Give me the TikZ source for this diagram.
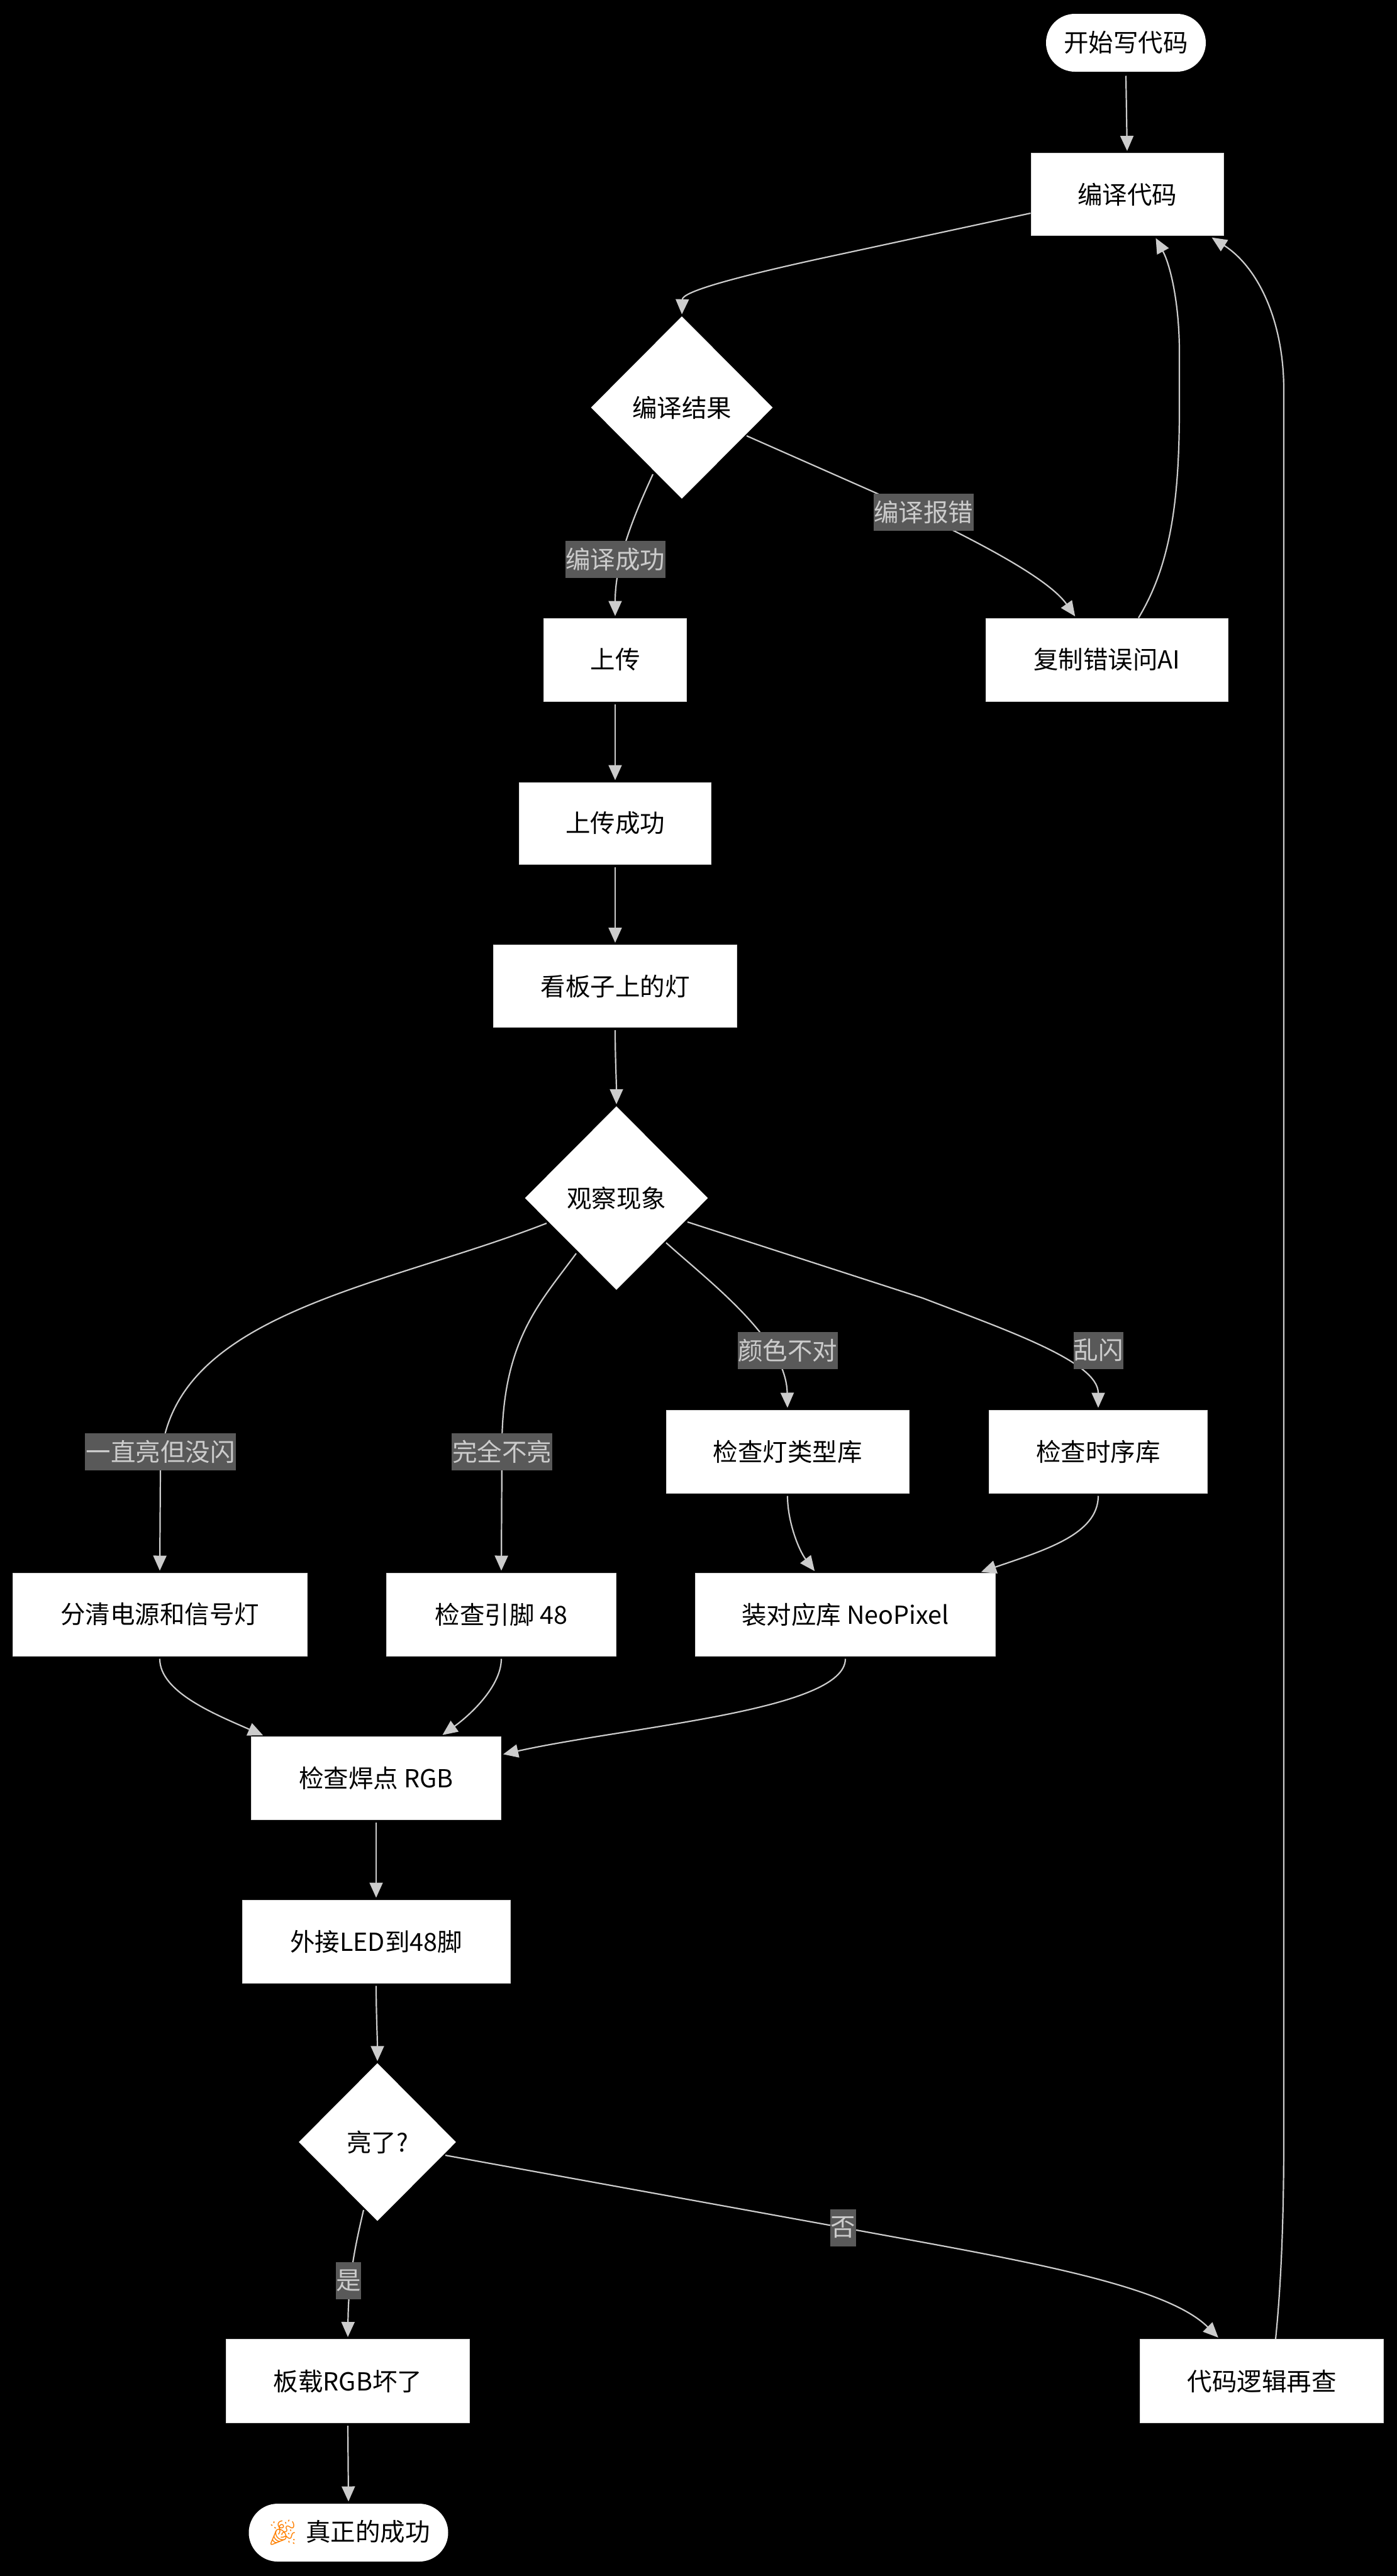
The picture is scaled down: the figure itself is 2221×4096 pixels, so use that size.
\documentclass[tikz,border=0pt]{standalone}
\usepackage{fontspec}
\setmainfont{Noto Sans CJK SC}
\newfontfamily\emojifont{Noto Emoji}
\usetikzlibrary{arrows.meta,shapes.geometric,calc}
\definecolor{edgecol}{HTML}{CCCCCC}
\definecolor{labbg}{HTML}{595959}
\tikzset{
  boxnode/.style={rectangle,fill=white,draw=white!85!black,line width=1pt,inner sep=0pt,text=black,font=\fontsize{39.5pt}{46pt}\selectfont},
  stadium/.style={boxnode,draw=none,rounded corners=46pt},
  decision/.style={diamond,fill=white,inner sep=0pt,shape aspect=1,text=black,font=\fontsize{39.5pt}{46pt}\selectfont},
  edgelabel/.style={rectangle,fill=labbg,inner sep=0pt,text=edgecol,minimum height=59pt,font=\fontsize{39.5pt}{46pt}\selectfont},
  edge/.style={draw=edgecol,line width=2.2pt,-{Triangle[length=24pt,width=21pt,fill=edgecol]},shorten >=3pt},
}
\begin{document}
\begin{tikzpicture}[x=1pt,y=-1pt]
\fill[black] (0,0) rectangle (2221,4096);
\useasboundingbox (0,0) rectangle (2221,4096);
% nodes
\node[stadium,minimum width=254pt,minimum height=92pt] (start) at (1790,68) {开始写代码};
\node[boxnode,minimum width=306pt,minimum height=131pt] (compile) at (1792,309) {编译代码};
\node[decision,minimum width=289pt,minimum height=290pt] (result) at (1084,648) {编译结果};
\node[boxnode,minimum width=227pt,minimum height=132pt] (upload) at (978,1049) {上传};
\node[boxnode,minimum width=385pt,minimum height=132pt] (askai) at (1760,1049) {复制错误问AI};
\node[boxnode,minimum width=305pt,minimum height=130pt] (upok) at (978,1309) {上传成功};
\node[boxnode,minimum width=387pt,minimum height=131pt] (look) at (978,1568) {看板子上的灯};
\node[decision,minimum width=291pt,minimum height=292pt] (observe) at (980,1905) {观察现象};
\node[boxnode,minimum width=386pt,minimum height=132pt] (lamptype) at (1252,2308) {检查灯类型库};
\node[boxnode,minimum width=347pt,minimum height=132pt] (timing) at (1746,2308) {检查时序库};
\node[boxnode,minimum width=468pt,minimum height=132pt] (power) at (254,2567) {分清电源和信号灯};
\node[boxnode,minimum width=365pt,minimum height=132pt] (pin) at (797,2567) {检查引脚 48};
\node[boxnode,minimum width=477pt,minimum height=132pt] (neo) at (1344,2567) {装对应库 NeoPixel};
\node[boxnode,minimum width=397pt,minimum height=132pt] (solder) at (598,2827) {检查焊点 RGB};
\node[boxnode,minimum width=426pt,minimum height=132pt] (led) at (598,3087) {外接LED到48脚};
\node[decision,minimum width=250pt,minimum height=251pt] (lit) at (600,3406) {亮了?};
\node[boxnode,minimum width=387pt,minimum height=133pt] (broken) at (553,3786) {板载RGB坏了};
\node[boxnode,minimum width=387pt,minimum height=133pt] (recheck) at (2006,3786) {代码逻辑再查};
\node[stadium,minimum width=317pt,minimum height=92pt] (done) at (554,4027) {{\emojifont\color{orange}🎉}\hspace{0.3em}真正的成功};
% connectors
\draw[edge] ([yshift=-6pt]start.south) -- (compile.north);
\draw[edge] ([yshift=-30pt]compile.west) -- (1300,412) .. controls (1150,445) and (1085,465) .. (result.north);
\draw[edge] ([xshift=-46pt,yshift=-106pt]result.center) .. controls (1015,805) and (978,885) .. (upload.north);
\draw[edge] ([xshift=103pt,yshift=-45pt]result.center) -- (1393,784) .. controls (1500,835) and (1660,910) .. ([xshift=-49pt]askai.north);
\draw[edge] ([xshift=50pt]askai.north) .. controls (1860,900) and (1875,800) .. (1875,650) -- (1875,560) .. controls (1875,480) and (1860,420) .. ([xshift=44pt,yshift=-1pt]compile.south);
\draw[edge] ([xshift=22pt]recheck.north) .. controls (2035,3650) and (2041,3550) .. (2041,3400) -- (2041,620) .. controls (2041,510) and (2000,425) .. ([xshift=132pt,yshift=-1pt]compile.south);
\draw[edge] ([yshift=-4pt]upload.south) -- (upok.north);
\draw[edge] ([yshift=-4pt]upok.south) -- (look.north);
\draw[edge] ([yshift=-4pt]look.south) .. controls (978,1680) and (980,1720) .. (observe.north);
\draw[edge] ([xshift=-111pt,yshift=-40pt]observe.center) .. controls (600,2050) and (255,2090) .. (255,2340) -- (power.north);
\draw[edge] ([xshift=-64pt,yshift=-88pt]observe.center) .. controls (860,2070) and (798,2130) .. (798,2300) -- (pin.north);
\draw[edge] ([xshift=79pt,yshift=-71pt]observe.center) .. controls (1130,2040) and (1250,2130) .. (lamptype.north);
\draw[edge] ([xshift=113pt,yshift=-38pt]observe.center) -- (1467,2064) .. controls (1600,2115) and (1746,2165) .. (timing.north);
\draw[edge] ([yshift=-4pt]lamptype.south) .. controls (1252,2420) and (1270,2465) .. ([xshift=-47pt]neo.north);
\draw[edge] ([yshift=-4pt]timing.south) .. controls (1746,2440) and (1660,2465) .. ([xshift=213pt]neo.north);
\draw[edge] ([yshift=-4pt]power.south) .. controls (254,2690) and (340,2725) .. ([xshift=-177pt]solder.north);
\draw[edge] ([yshift=-4pt]pin.south) .. controls (797,2680) and (750,2725) .. ([xshift=103pt]solder.north);
\draw[edge] ([yshift=-4pt]neo.south) .. controls (1344,2720) and (1000,2745) .. ([yshift=37pt]solder.east);
\draw[edge] ([yshift=-4pt]solder.south) -- (led.north);
\draw[edge] ([yshift=-4pt]led.south) .. controls (598,3200) and (600,3240) .. (lit.north);
\draw[edge] ([xshift=-22pt,yshift=-108pt]lit.center) .. controls (565,3570) and (554,3620) .. (broken.north);
\draw[edge] ([xshift=108pt,yshift=-21pt]lit.center) -- (1340,3542) .. controls (1600,3590) and (1850,3630) .. ([xshift=-67pt]recheck.north);
\draw[edge] ([yshift=-4pt]broken.south) -- (done.north);
% edge labels
\node[edgelabel,minimum width=159pt] (l1) at (978,889) {编译成功};
\node[edgelabel,minimum width=159pt] (l2) at (1468,814) {编译报错};
\node[edgelabel,minimum width=159pt] (l3) at (1252,2147) {颜色不对};
\node[edgelabel,minimum width=79pt] (l4) at (1746,2147) {乱闪};
\node[edgelabel,minimum width=240pt] (l5) at (255,2308) {一直亮但没闪};
\node[edgelabel,minimum width=160pt] (l6) at (798,2308) {完全不亮};
\node[edgelabel,minimum width=40pt] (l7) at (554,3626) {是};
\node[edgelabel,minimum width=41pt] (l8) at (1340,3542) {否};
\end{tikzpicture}
\end{document}
